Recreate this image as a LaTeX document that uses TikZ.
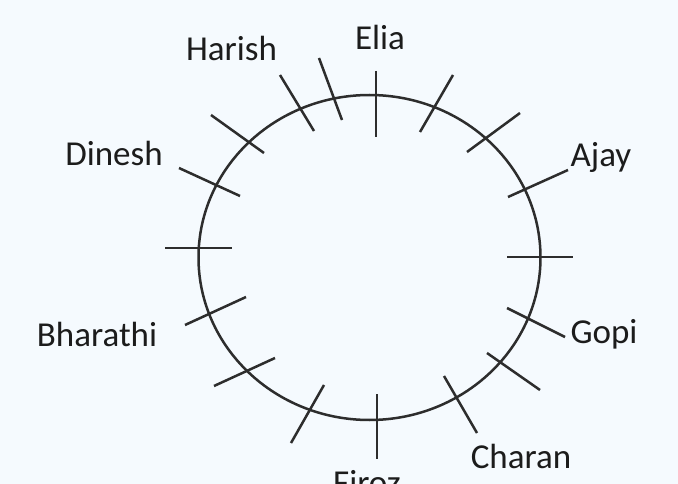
\documentclass[tikz,border=0pt]{standalone}
\usepackage{fontspec}
\setmainfont{Carlito}
\definecolor{bgc}{RGB}{245,250,254}
\definecolor{linec}{RGB}{45,45,45}
\definecolor{textc}{RGB}{28,28,28}
\begin{document}
\begin{tikzpicture}[x=1pt,y=-1pt,
  ring/.style={draw=linec,line width=2.5pt},
  tick/.style={draw=linec,line width=2.5pt},
  lbl/.style={anchor=base,inner sep=0pt,text=textc,font=\fontsize{35}{42}\selectfont}]
\fill[bgc] (0,0) rectangle (678,484);
\useasboundingbox (0,0) rectangle (678,484);
\begin{scope}
\clip (0,0) rectangle (678,484);
% ring
\draw[ring] (369.5,257.5) ellipse [x radius=171,y radius=162.5];
% ticks
\draw[tick] (280,75) -- (314,131);
\draw[tick] (319,58) -- (342,120);
\draw[tick] (376,71) -- (376,137);
\draw[tick] (211,115) -- (264,153);
\draw[tick] (179,168) -- (240,196);
\draw[tick] (165,248) -- (232,248);
\draw[tick] (453,75) -- (420,132);
\draw[tick] (520,113) -- (467,152);
\draw[tick] (568,170) -- (508,197);
\draw[tick] (507,257) -- (573,257);
\draw[tick] (246,297) -- (185,325);
\draw[tick] (275,358) -- (214,386);
\draw[tick] (324,385) -- (291,443);
\draw[tick] (377,394) -- (377,459);
\draw[tick] (507,308) -- (565,337);
\draw[tick] (487,353) -- (540,390);
\draw[tick] (444,376) -- (477,433);
% labels
\node[lbl] (elia) at (380,50) {Elia};
\node[lbl] (harish) at (231.5,61) {Harish};
\node[lbl] (dinesh) at (114,166) {Dinesh};
\node[lbl] (ajay) at (601,167) {Ajay};
\node[lbl] (gopi) at (604,343) {Gopi};
\node[lbl] (bharathi) at (97,346) {Bharathi};
\node[lbl] (charan) at (521,468) {Charan};
\node[lbl] (firoz) at (367,494) {Firoz};
\end{scope}
\end{tikzpicture}
\end{document}
